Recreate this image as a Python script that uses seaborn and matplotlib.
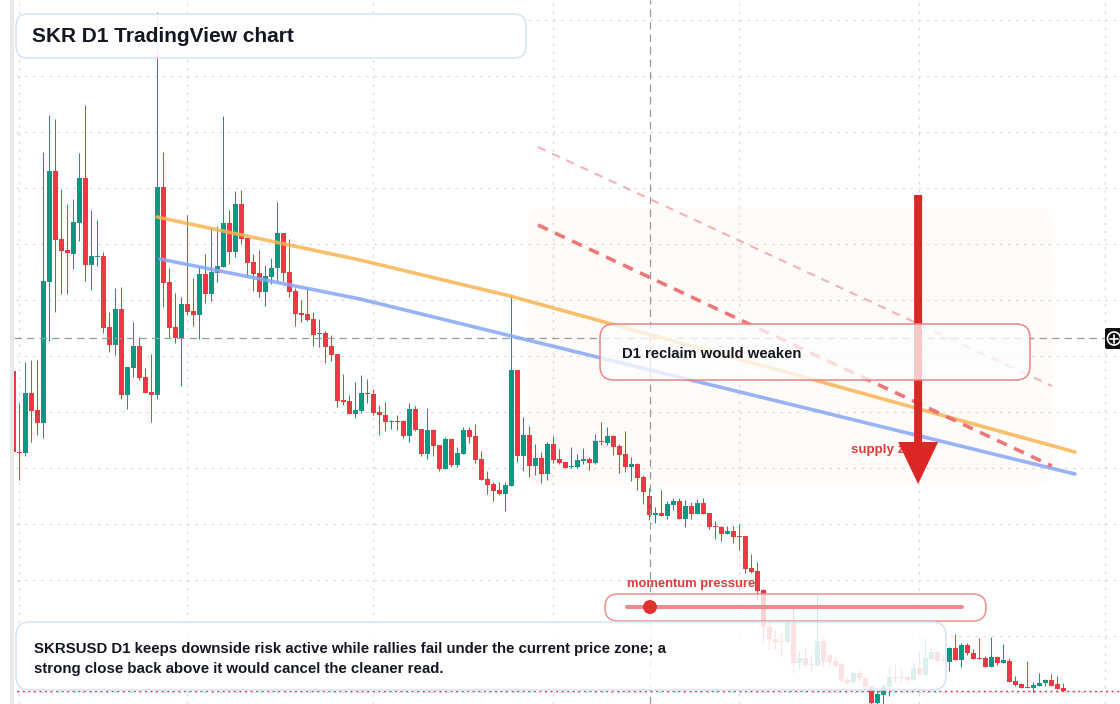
import numpy as np
import matplotlib
matplotlib.use("Agg")
import matplotlib.pyplot as plt
from matplotlib.patches import FancyBboxPatch, FancyArrow, Rectangle, Circle
from matplotlib.transforms import Affine2D
import seaborn as sns

sns.set_theme(style="white")
plt.rcParams["font.family"] = ["Liberation Sans", "DejaVu Sans"]

# SKRUSD daily candles, prices in ticks of 0.0001 USD
TICK = 1e-4
opens = [629, 548, 547, 607, 590, 577, 718, 829, 761, 750,
         746, 777, 822, 735, 743, 744, 673, 655, 691, 605,
         632, 654, 623, 608, 605, 813, 718, 673, 662, 696,
         689, 685, 726, 706, 727, 733, 777, 748, 796, 762,
         738, 727, 708, 723, 732, 767, 728, 709, 687, 686,
         681, 666, 667, 654, 646, 600, 599, 586, 589, 607,
         606, 588, 585, 578, 579, 579, 564, 591, 571, 546,
         570, 555, 531, 561, 535, 546, 570, 564, 541, 521,
         516, 510, 506, 514, 630, 544, 565, 534, 542, 526,
         556, 541, 538, 533, 533, 539, 541, 537, 559, 557,
         564, 554, 546, 533, 536, 523, 504, 485, 487, 484,
         495, 499, 481, 494, 486, 497, 487, 474, 473, 466,
         469, 464, 464, 432, 429, 410, 373, 361, 359, 358,
         378, 337, 342, 336, 334, 359, 345, 339, 336, 320,
         318, 327, 322, 314, 297, 305, 313, 323, 323, 323,
         320, 332, 325, 341, 348, 340, 338, 352, 340, 355,
         347, 342, 342, 333, 343, 337, 339, 319, 316, 313,
         312, 314, 317, 320, 316, 312]
highs = [632, 597, 638, 640, 640, 848, 885, 881, 811, 796,
         801, 847, 895, 790, 780, 748, 688, 712, 713, 633,
         678, 663, 632, 646, 988, 848, 732, 707, 703, 785,
         722, 733, 746, 773, 774, 884, 790, 809, 810, 762,
         746, 750, 735, 742, 798, 767, 761, 712, 700, 712,
         688, 681, 669, 665, 646, 626, 605, 618, 625, 621,
         611, 595, 598, 580, 585, 580, 597, 594, 571, 592,
         571, 555, 563, 561, 553, 573, 573, 576, 549, 529,
         518, 518, 518, 705, 630, 583, 574, 556, 548, 558,
         564, 551, 538, 553, 546, 552, 543, 566, 578, 573,
         565, 556, 569, 543, 537, 525, 512, 493, 510, 499,
         502, 502, 500, 498, 501, 502, 487, 479, 474, 474,
         474, 476, 464, 446, 438, 411, 380, 370, 368, 380,
         395, 350, 353, 345, 405, 362, 345, 343, 336, 322,
         328, 330, 323, 314, 310, 317, 333, 336, 333, 325,
         338, 349, 362, 352, 350, 346, 353, 366, 357, 357,
         351, 362, 344, 363, 344, 356, 342, 324, 317, 339,
         318, 327, 321, 326, 324, 317]
lows = [545, 520, 544, 558, 565, 562, 659, 688, 706, 706,
        731, 759, 719, 710, 734, 667, 648, 645, 601, 591,
        623, 620, 607, 578, 601, 693, 662, 657, 614, 685,
        674, 661, 697, 699, 718, 733, 736, 743, 756, 723,
        709, 703, 694, 716, 718, 719, 703, 674, 678, 679,
        654, 653, 637, 639, 593, 595, 586, 582, 587, 597,
        585, 565, 569, 571, 570, 562, 558, 569, 544, 541,
        544, 529, 531, 533, 533, 546, 557, 537, 520, 506,
        499, 505, 489, 514, 538, 529, 523, 525, 517, 520,
        537, 536, 532, 532, 532, 536, 530, 536, 555, 555,
        545, 527, 528, 519, 510, 496, 480, 477, 484, 481,
        490, 481, 473, 481, 486, 486, 471, 461, 459, 466,
        457, 450, 427, 427, 400, 357, 351, 351, 343, 358,
        327, 331, 333, 328, 334, 333, 333, 333, 318, 316,
        316, 319, 311, 295, 295, 295, 304, 318, 318, 318,
        320, 325, 325, 341, 338, 338, 329, 340, 333, 345,
        341, 341, 333, 333, 335, 337, 318, 314, 312, 312,
        308, 314, 314, 314, 311, 309]
closes = [548, 547, 607, 589, 577, 719, 829, 760, 749, 747,
          778, 822, 735, 744, 744, 672, 655, 691, 605, 633,
          654, 622, 607, 605, 813, 717, 672, 662, 696, 688,
          685, 726, 706, 728, 734, 777, 748, 796, 761, 737,
          726, 708, 724, 732, 767, 727, 708, 686, 685, 680,
          665, 667, 653, 645, 599, 598, 586, 590, 607, 606,
          587, 585, 578, 579, 578, 564, 591, 570, 546, 570,
          554, 531, 561, 535, 547, 570, 563, 540, 520, 515,
          509, 506, 515, 630, 544, 565, 534, 542, 526, 556,
          540, 537, 532, 534, 540, 541, 537, 559, 558, 564,
          553, 545, 533, 536, 522, 508, 485, 487, 484, 496,
          499, 481, 494, 486, 497, 486, 473, 473, 466, 469,
          463, 463, 431, 428, 409, 373, 361, 358, 358, 378,
          337, 342, 335, 335, 359, 338, 338, 334, 319, 317,
          327, 322, 313, 297, 306, 314, 323, 322, 322, 320,
          332, 325, 342, 348, 339, 339, 352, 340, 355, 347,
          341, 341, 333, 343, 337, 340, 318, 315, 312, 312,
          315, 317, 320, 314, 311, 309]

# drawings: (bar index, price tick) anchors
orange_bars = [23.95, 57.8, 82.8, 176.95]
orange_px = [783, 740, 704, 548]
blue_bars = [24.45, 57.8, 176.95]
blue_px = [741, 701, 526]
faint_bars = [87.45, 173.1]
faint_px = [853, 614]
dash_bars = [87.45, 173.1]
dash_px = [775, 534]
arrow_bar = 150.8
arrow_from, arrow_to = 805, 516
cross_bar, cross_px = 106.1, 662
grid_bars = [1, 29, 60, 90, 121, 151, 182]
grid_px = [980, 924, 868, 812, 756, 700, 644, 588, 532, 476, 420, 364, 308]

GREEN = "#089981"
RED = "#f23645"
DARK = "#131722"

fig = plt.figure(figsize=(11.2, 7.04), dpi=100)
ax = fig.add_axes([0, 0, 1, 1])
# top-left pixel coordinates for the overlay widgets
pix = Affine2D().scale(1 / 100, -1 / 100).translate(0, 7.04) + fig.dpi_scale_trans

o = np.array(opens) * TICK
h = np.array(highs) * TICK
l = np.array(lows) * TICK
c = np.array(closes) * TICK
idx = np.arange(len(c))
cols = np.where(c >= o, GREEN, RED)

ax.vlines(idx, l, h, colors=cols, lw=0.75, zorder=3)
ax.bar(idx, c - o, bottom=o, width=0.84, color=cols, linewidth=0, zorder=3)

ax.set_xlim(-13.3 / 6, (1120 - 13.3) / 6)
ax.set_ylim(296 * TICK, 1000 * TICK)
ax.set_xticks(grid_bars)
ax.set_yticks(np.array(grid_px) * TICK)
ax.tick_params(length=0, labelbottom=False, labelleft=False)
ax.grid(True, color="#d6d9de", lw=0.9, linestyle=(0, (2, 4.5)), zorder=0)
ax.set_axisbelow(True)
sns.despine(ax=ax, left=True, bottom=True)

# supply zone shading
ax.add_patch(FancyBboxPatch((527, 208), 526, 277, boxstyle="round,pad=0,rounding_size=16",
                            transform=pix, facecolor="#f7c9a0", alpha=0.065, lw=0, zorder=1))

# last price + crosshair
ax.axhline(c[-1], color=RED, lw=1.0, linestyle=(0, (1.5, 2.5)), zorder=3.5)
ax.plot([14, 1105], [338, 338], transform=pix, color="#9a9a9a", lw=0.9,
        linestyle=(0, (6, 4)), zorder=4)
ax.axvline(cross_bar, color="#9a9a9a", lw=0.9, linestyle=(0, (6, 4)), zorder=4)

# trend lines
sns.lineplot(x=orange_bars, y=np.array(orange_px) * TICK, ax=ax, color="#f8b452",
             lw=2.6, alpha=0.85, sort=False, estimator=None, zorder=5)
sns.lineplot(x=blue_bars, y=np.array(blue_px) * TICK, ax=ax, color="#86a5f5",
             lw=2.6, alpha=0.85, sort=False, estimator=None, zorder=5)
ax.plot(faint_bars, np.array(faint_px) * TICK, color="#f09a9a", lw=1.5, alpha=0.75,
        linestyle=(0, (4, 3.5)), zorder=5)
ax.plot(dash_bars, np.array(dash_px) * TICK, color="#e96a6a", lw=2.6, alpha=0.9,
        linestyle=(0, (3, 2.2)), zorder=5)

ax.text(851, 450, "supply zone", transform=pix, color="#e23b3b", fontsize=9.6,
        fontweight="bold", va="center", ha="left", zorder=6)
ax.add_patch(FancyArrow(arrow_bar, arrow_from * TICK, 0, (arrow_to - arrow_from) * TICK,
                        width=8 / 6, head_width=40 / 6, head_length=42 * TICK,
                        length_includes_head=True, color="#dc2626", lw=0, zorder=7))

# annotation boxes
ax.add_patch(FancyBboxPatch((600, 324), 430, 56, boxstyle="round,pad=0,rounding_size=14",
                            transform=pix, facecolor=(1, 1, 1, 0.75), edgecolor="#e98585",
                            lw=1.1, zorder=8))
ax.text(622, 354.5, "D1 reclaim would weaken", transform=pix, color=DARK, fontsize=10.7,
        fontweight="bold", va="center", ha="left", zorder=9)

ax.text(627, 584, "momentum pressure", transform=pix, color="#e23b3b", fontsize=9.4,
        fontweight="bold", va="center", ha="left", zorder=9)
ax.add_patch(FancyBboxPatch((605, 594), 381, 27, boxstyle="round,pad=0,rounding_size=13",
                            transform=pix, facecolor=(1, 1, 1, 0.78), edgecolor="#ec8f8f",
                            lw=1.1, zorder=8))
sns.lineplot(x=[627, 962], y=[607, 607], ax=ax, transform=pix, color="#ec8b8b",
             lw=2.9, zorder=9)
ax.add_patch(Circle((650, 607), 7, transform=pix, color="#e03131", lw=0, zorder=9.5))

ax.add_patch(FancyBboxPatch((16, 622), 930, 68, boxstyle="round,pad=0,rounding_size=14",
                            transform=pix, facecolor=(1, 1, 1, 0.86), edgecolor="#d5e2f7",
                            lw=1.1, zorder=8))
ax.text(34, 649, "SKRSUSD D1 keeps downside risk active while rallies fail under the current price zone; a",
        transform=pix, color=DARK, fontsize=10.8, fontweight="bold", va="center", ha="left", zorder=9)
ax.text(34, 669, "strong close back above it would cancel the cleaner read.",
        transform=pix, color=DARK, fontsize=10.8, fontweight="bold", va="center", ha="left", zorder=9)

ax.add_patch(FancyBboxPatch((16, 14), 510, 44, boxstyle="round,pad=0,rounding_size=12",
                            transform=pix, facecolor=(1, 1, 1, 0.92), edgecolor="#d5e2f7",
                            lw=1.1, zorder=8))
ax.text(32, 37, "SKR D1 TradingView chart", transform=pix, color=DARK, fontsize=15,
        fontweight="bold", va="center", ha="left", zorder=9)

# crosshair label on the right edge
ax.add_patch(FancyBboxPatch((1105, 328), 22, 21, boxstyle="round,pad=0,rounding_size=2",
                            transform=pix, facecolor="#111111", lw=0, zorder=10))
ax.add_patch(Circle((1114, 338.5), 6.5, transform=pix, facecolor="none",
                    edgecolor="white", lw=1.2, zorder=11))
ax.plot([1110, 1118], [338.5, 338.5], transform=pix, color="white", lw=1.2, zorder=11)
ax.plot([1114, 1114], [334.5, 342.5], transform=pix, color="white", lw=1.2, zorder=11)

# left frame edge
ax.add_patch(Rectangle((0, 0), 10, 704, transform=pix, facecolor="white", lw=0, zorder=10))
ax.add_patch(Rectangle((10, 0), 4, 704, transform=pix, facecolor="#e9e9ea", lw=0, zorder=10))

fig.savefig("out.png", dpi=100)
